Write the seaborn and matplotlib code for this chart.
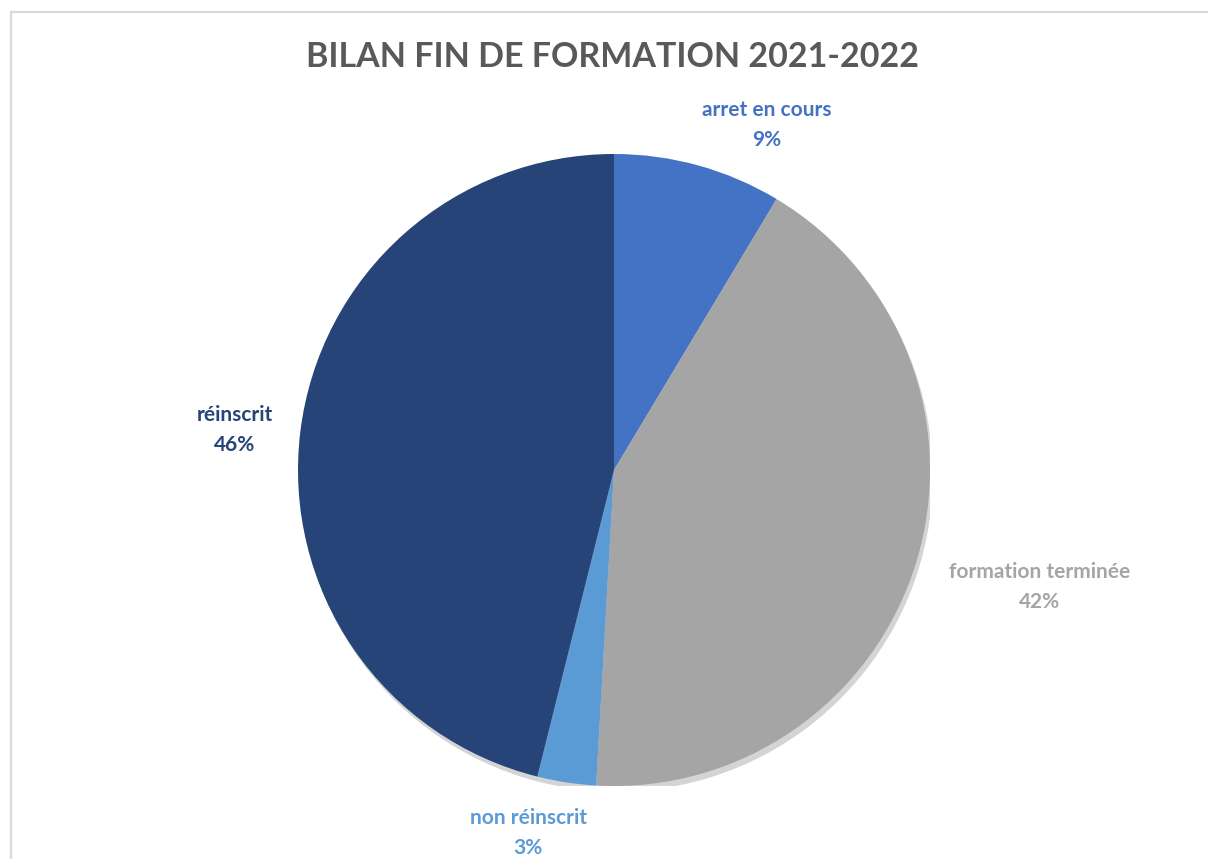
import matplotlib
matplotlib.use("Agg")
import seaborn as sns
from matplotlib import pyplot as plt
from matplotlib import patheffects
from matplotlib.patches import Rectangle, Circle

CATEGORIES = ["arret en cours", "formation terminée", "non réinscrit", "réinscrit"]
SHARES = [8.6, 42.3, 3.0, 46.1]
PCT_LABELS = ["9%", "42%", "3%", "46%"]
COLORS = ["#4472C4", "#A5A5A5", "#5B9BD5", "#264478"]
TITLE = "BILAN FIN DE FORMATION 2021-2022"

sns.set_theme(style="white")
plt.rcParams["font.family"] = ["Lato", "DejaVu Sans"]

W, H = 1208, 859
fig = plt.figure(figsize=(W / 100, H / 100), dpi=100)

# light frame around the chart area
fig.patches.append(Rectangle((11 / W, -0.1), 1.2, 1.1 - 12 / H, transform=fig.transFigure,
                             fill=False, edgecolor="#d9d9d9", linewidth=1.6))

cx, cy, r = 614, 470, 316
ax = fig.add_axes([(cx - r) / W, (H - cy - r) / H, 2 * r / W, 2 * r / H])

# soft drop shadow under the whole pie
shadow = Circle((0, 0), 1, facecolor="white", edgecolor="none", zorder=0)
shadow.set_path_effects([patheffects.SimplePatchShadow(offset=(2, -4), alpha=0.25,
                                                       shadow_rgbFace="#555555")])
ax.add_patch(shadow)

wedges, _ = ax.pie(SHARES, colors=COLORS, startangle=90, counterclock=False,
                   wedgeprops=dict(linewidth=0, zorder=2))
ax.set_aspect("equal")
ax.set_xlim(-1, 1)
ax.set_ylim(-1, 1)
ax.axis("off")

# label anchors in pixel coords of the reference layout
label_pos = [(767, 110), (1040, 572), (528, 818), (235, 415)]
for (px, py), name, pct, col in zip(label_pos, CATEGORIES, PCT_LABELS, COLORS):
    fig.text(px / W, 1 - py / H, name, ha="center", va="center", fontsize=15,
             fontweight="bold", color=col)
    fig.text(px / W, 1 - (py + 30) / H, pct, ha="center", va="center", fontsize=15,
             fontweight="bold", color=col)

fig.text(613 / W, 1 - 57 / H, TITLE, ha="center", va="center", fontsize=24.5,
         fontweight="bold", color="#595959")

fig.savefig("out.png", dpi=100)
